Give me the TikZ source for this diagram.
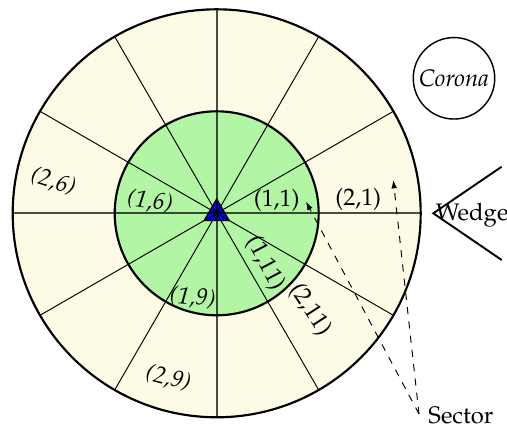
\documentclass[tikz,border=0pt]{standalone}
\usepackage[T1]{fontenc}
\usepackage{mathpazo}
\usetikzlibrary{arrows.meta,shapes.geometric}
\definecolor{outerfill}{RGB}{253,251,230}
\definecolor{innerfill}{RGB}{178,245,164}
\tikzset{
  mainspoke/.style={draw=black,draw opacity=0.7,line width=0.8pt},
  minorspoke/.style={draw=black,line width=0.4pt},
  ring/.style={draw=black,line width=0.9pt},
  lbl/.style={inner sep=0pt,font=\normalsize},
  ilbl/.style={inner sep=0pt,font=\normalsize\itshape},
  pointer/.style={dashed,line width=0.4pt,-{Latex[length=3.5pt,width=2.4pt]}},
}
\begin{document}
\begin{tikzpicture}[x=0.01471cm,y=-0.01471cm]
\useasboundingbox (0,0) rectangle (507,430);
\coordinate (c) at (216.7,213.3);
% fills
\fill[outerfill] (c) circle[radius=204];
\fill[innerfill] (c) circle[radius=102];
% triangle
\node[regular polygon,regular polygon sides=3,fill=blue,minimum size=12.1pt,inner sep=0pt] (tri) at (c) {};
% spokes
\foreach \a in {30,60,120,150,210,240,300,330}
  \draw[minorspoke] (c) -- ++(\a:204 and -204);
\foreach \a in {0,90,180,270}
  \draw[mainspoke] (c) -- ++(\a:204 and -204);
% circle outlines
\draw[ring] (c) circle[radius=204];
\draw[ring] (c) circle[radius=102];
\node[regular polygon,regular polygon sides=3,draw=black,line width=0.5pt,minimum size=12.1pt,inner sep=0pt] (trib) at (c) {};
% labels
\node[lbl] (l11) at (276.7,200) {(1,1)};
\node[lbl] (l21) at (358.3,199.3) {(2,1)};
\node[ilbl,rotate=-8] (l16) at (150,201.7) {(1,6)};
\node[ilbl,rotate=-18] (l26) at (53.3,181.7) {(2,6)};
\node[ilbl,rotate=-6] (l19) at (192.7,297.7) {(1,9)};
\node[ilbl,rotate=-15] (l29) at (168.3,378.3) {(2,9)};
\node[lbl,rotate=-62] (l111) at (265,263.3) {(1,11)};
\node[lbl,rotate=-57] (l211) at (310,310) {(2,11)};
% corona
\node[draw=black,line width=0.6pt,circle,minimum size=34.1pt,inner sep=0pt,font=\normalsize\itshape] (corona) at (454,78.3) {Corona};
% wedge
\coordinate (wtip) at (433.3,213.3);
\coordinate (wtop) at (501.7,166.7);
\coordinate (wbot) at (501.7,260);
\draw[line width=0.8pt] (wtop) -- (wtip) -- (wbot);
\node[anchor=west,inner sep=0pt] (wedge) at (435.5,215) {Wedge};
% sector
\node[anchor=west,inner sep=0pt] (sector) at (428,415) {Sector};
\coordinate (sfrom) at (419,414);
\coordinate (t1) at (306,201.7);
\coordinate (t2) at (393.3,180);
\draw[pointer] (sfrom) -- (t1);
\draw[pointer] (sfrom) -- (t2);
\end{tikzpicture}
\end{document}
